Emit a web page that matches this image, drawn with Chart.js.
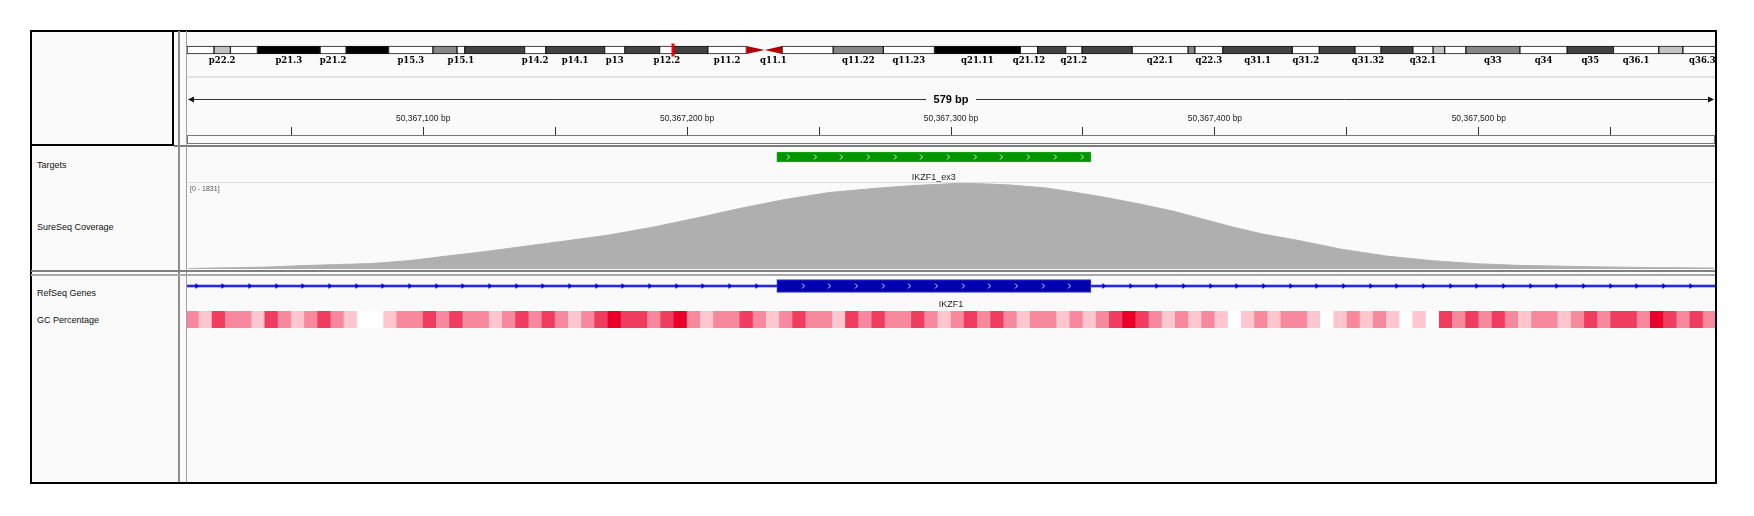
<!DOCTYPE html>
<html>
<head>
<meta charset="utf-8">
<title>IKZF1 exon 3 – coverage view</title>
<script src="https://cdn.jsdelivr.net/npm/chart.js@4.4.1/dist/chart.umd.min.js"></script>
<style>
html,body{margin:0;padding:0;background:#fff;}
body{width:1754px;height:516px;position:relative;overflow:hidden;font-family:"Liberation Sans",Arial,sans-serif;}
#frame{position:absolute;left:30px;top:30px;width:1687px;height:454px;border:2px solid #000;box-sizing:border-box;background:#fafafa;}
.ln{position:absolute;}
.name{position:absolute;left:37px;font-size:9px;line-height:10px;color:#111;white-space:nowrap;}
.txt{position:absolute;white-space:nowrap;}
canvas{position:absolute;display:block;}
#bandLabels{position:absolute;left:187px;top:55px;width:1528px;height:12px;overflow:hidden;}
.band{position:absolute;top:0;font-family:"DejaVu Serif",serif;font-weight:bold;font-size:8.5px;line-height:10px;color:#000;white-space:nowrap;transform:translateX(-50%);}
</style>
</head>
<body>
<div id="frame"></div>
<!-- panel separators -->
<div class="ln" style="left:172px;top:31px;width:2px;height:115px;background:#000"></div>
<div class="ln" style="left:31px;top:144px;width:143px;height:2px;background:#000"></div>
<div class="ln" style="left:174px;top:145px;width:1541px;height:2px;background:#7c7c7c"></div>
<div class="ln" style="left:178px;top:31px;width:2px;height:451px;background:#8e8e8e"></div>
<div class="ln" style="left:186px;top:31px;width:1px;height:451px;background:#a0a0a0"></div>
<div class="ln" style="left:187px;top:76px;width:1528px;height:2px;background:#e3e3e3"></div>
<div class="ln" style="left:187px;top:182px;width:1528px;height:1px;background:#dcdcdc"></div>
<div class="ln" style="left:31px;top:270px;width:1684px;height:2px;background:#808080"></div>
<div class="ln" style="left:31px;top:274px;width:1684px;height:2px;background:#a9a9a9"></div>

<canvas id="ideo" width="1528" height="20" style="left:187px;top:40px;width:1528px;height:20px"></canvas>
<div id="bandLabels"></div>
<canvas id="ruler" width="1528" height="67" style="left:187px;top:78px;width:1528px;height:67px"></canvas>
<div class="txt" id="spanLabel" style="top:93px;font-weight:bold;font-size:11px;line-height:12px;color:#000;transform:translateX(-50%)"></div>

<div class="name" style="top:160px">Targets</div>
<div class="name" style="top:222px">SureSeq Coverage</div>
<div class="name" style="top:288px">RefSeq Genes</div>
<div class="name" style="top:315px">GC Percentage</div>

<canvas id="targets" width="1528" height="20" style="left:187px;top:147px;width:1528px;height:20px"></canvas>
<div class="txt" id="targetLabel" style="top:172px;font-size:9px;line-height:10px;color:#222;transform:translateX(-50%)"></div>
<canvas id="coverage" width="1528" height="86" style="left:187px;top:183px;width:1528px;height:86px"></canvas>
<div class="txt" id="covRange" style="left:190px;top:185px;font-size:7px;line-height:8px;color:#555"></div>
<canvas id="genes" width="1528" height="20" style="left:187px;top:276px;width:1528px;height:20px"></canvas>
<div class="txt" id="geneLabel" style="top:299px;font-size:9px;line-height:10px;color:#222;transform:translateX(-50%)"></div>
<canvas id="gc" width="1528" height="17" style="left:187px;top:311px;width:1528px;height:17px"></canvas>

<script>
// ---------------- data ----------------
const VIEW_START = 50367010.5;
const VIEW_END = 50367589.5;
const RULER_STEP = 50;
const RULER_LABEL_STEP = 100;

// chr7 cytobands (Mb)
const bandNames  = ['p22.3','p22.2','p22.1','p21.3','p21.2','p21.1','p15.3','p15.2','p15.1','p14.3','p14.2','p14.1','p13','p12.3','p12.2','p12.1','p11.2','p11.1','q11.1','q11.21','q11.22','q11.23','q21.11','q21.12','q21.13','q21.2','q21.3','q22.1','q22.2','q22.3','q31.1','q31.2','q31.31','q31.32','q31.33','q32.1','q32.2','q32.3','q33','q34','q35','q36.1','q36.2','q36.3'];
const bandStarts = [0,2.8,4.5,7.3,13.8,16.5,20.9,25.5,28.0,28.8,35.0,37.2,43.3,45.4,49.0,50.5,54.0,58.0,59.9,61.7,67.0,72.2,77.5,86.4,88.2,91.1,92.8,98.0,103.8,104.5,107.4,114.6,117.4,121.1,123.8,127.1,129.2,130.4,132.6,138.2,143.1,147.9,152.6,155.1];
const bandEnds   = [2.8,4.5,7.3,13.8,16.5,20.9,25.5,28.0,28.8,35.0,37.2,43.3,45.4,49.0,50.5,54.0,58.0,59.9,61.7,67.0,72.2,77.5,86.4,88.2,91.1,92.8,98.0,103.8,104.5,107.4,114.6,117.4,121.1,123.8,127.1,129.2,130.4,132.6,138.2,143.1,147.9,152.6,155.1,159.14];
const bandStains = ['gneg','gpos25','gneg','gpos100','gneg','gpos100','gneg','gpos50','gneg','gpos75','gneg','gpos75','gneg','gpos75','gneg','gpos75','gneg','acen','acen','gneg','gpos50','gneg','gpos100','gneg','gpos75','gneg','gpos75','gneg','gpos50','gneg','gpos75','gneg','gpos75','gneg','gpos75','gneg','gpos25','gneg','gpos50','gneg','gpos75','gneg','gpos25','gneg'];
const shownBandLabels = ['p22.2','p21.3','p21.2','p15.3','p15.1','p14.2','p14.1','p13','p12.2','p11.2','q11.1','q11.22','q11.23','q21.11','q21.12','q21.2','q22.1','q22.3','q31.1','q31.2','q31.32','q32.1','q33','q34','q35','q36.1','q36.3'];
const IDEO_VISIBLE_MAX = 158.43;
const locusMb = [50.367];

const targetNames  = ['IKZF1_ex3'];
const targetStarts = [50367234];
const targetEnds   = [50367353];

const geneNames  = ['IKZF1'];
const geneStarts = [50344378];
const geneEnds   = [50472798];
const exonStarts = [50367234];
const exonEnds   = [50367353];

const COV_MAX = 1831;
const coveragePos = [50367011,50367015,50367041,50367053,50367068,50367080,50367085,50367095,50367109,50367124,50367136,50367153,50367170,50367187,50367204,50367220,50367237,50367254,50367272,50367285,50367303,50367313,50367322,50367336,50367346,50367357,50367370,50367384,50367397,50367407,50367418,50367431,50367448,50367465,50367482,50367499,50367516,50367527,50367546,50367565,50367589];
const coverageVal = [5,15,40,70,95,115,135,180,275,375,465,590,720,890,1090,1290,1480,1630,1720,1775,1824,1812,1790,1725,1640,1540,1400,1235,1040,890,745,615,420,275,178,112,75,65,45,30,20];

const GC_START = 50367010;
const GC_WINDOW = 5;
const gcValues = [
  60,40,80,60,60,40,80,60,40,60,
  80,60,40,20,20,40,60,60,80,60,
  80,60,60,40,60,80,60,80,60,40,
  60,80,100,80,80,60,80,100,60,40,
  60,60,80,60,40,60,80,60,60,40,
  80,60,80,60,60,80,60,40,60,80,
  60,80,60,40,60,60,40,60,40,60,
  80,100,80,60,40,60,40,60,40,20,
  40,60,40,60,60,40,20,40,60,40,
  60,40,20,40,20,80,60,80,60,80,
  60,40,60,60,40,60,80,60,80,80,
  60,100,80,60,80,60
];

// ---------------- styles ----------------
const STAIN_COLORS = {gneg:'#ffffff', gpos25:'#c4c4c4', gpos50:'#878787', gpos75:'#434343', gpos100:'#000000'};
const ACEN_COLOR = 'rgb(175,0,0)';
const GC_STOPS = [[20,[255,255,255]],[40,[255,198,208]],[60,[248,136,158]],[80,[240,60,94]],[100,[232,0,40]]];
function gcColor(v){
  if (v <= GC_STOPS[0][0]) return 'rgb(' + GC_STOPS[0][1].join(',') + ')';
  for (let i = 1; i < GC_STOPS.length; i++){
    if (v <= GC_STOPS[i][0]){
      const [a, ca] = GC_STOPS[i-1], [b, cb] = GC_STOPS[i];
      const t = (v - a) / (b - a);
      return 'rgb(' + ca.map((c, k) => Math.round(c + (cb[k] - c) * t)).join(',') + ')';
    }
  }
  return 'rgb(' + GC_STOPS[GC_STOPS.length-1][1].join(',') + ')';
}
const FONT = '"Liberation Sans", Arial, sans-serif';

const common = {
  responsive: false, animation: false, maintainAspectRatio: false, devicePixelRatio: 1,
  events: [], layout: {padding: 0},
  plugins: {legend: {display: false}, tooltip: {enabled: false}, title: {display: false}}
};
const bpX = () => ({type: 'linear', min: VIEW_START, max: VIEW_END, display: false});
const rowY = () => ({type: 'linear', min: -1, max: 1, display: false});

// ---------------- ideogram ----------------
const ideoIdx = bandNames.map((_, i) => i).filter(i => bandStains[i] !== 'acen');
const ideoChart = new Chart(document.getElementById('ideo'), {
  type: 'bar',
  data: {datasets: [{
    data: ideoIdx.map(i => ({x: [bandStarts[i], bandEnds[i]], y: 0})),
    backgroundColor: ideoIdx.map(i => STAIN_COLORS[bandStains[i]]),
    borderColor: '#1a1a1a', borderWidth: 1, borderSkipped: false,
    barThickness: 8, grouped: false
  }]},
  options: {...common, indexAxis: 'y',
    scales: {x: {type: 'linear', min: 0, max: IDEO_VISIBLE_MAX, display: false}, y: rowY()}},
  plugins: [{
    id: 'ideoExtras',
    afterDatasetsDraw(chart){
      const {ctx, scales: {x, y}} = chart;
      const yc = y.getPixelForValue(0), h = 8;
      ctx.save();
      bandNames.forEach((n, i) => {
        if (bandStains[i] !== 'acen') return;
        const x0 = x.getPixelForValue(bandStarts[i]), x1 = x.getPixelForValue(bandEnds[i]);
        ctx.fillStyle = ACEN_COLOR;
        ctx.beginPath();
        if (n[0] === 'p'){ ctx.moveTo(x0, yc - h/2); ctx.lineTo(x1, yc); ctx.lineTo(x0, yc + h/2); }
        else { ctx.moveTo(x0, yc); ctx.lineTo(x1, yc - h/2); ctx.lineTo(x1, yc + h/2); }
        ctx.closePath(); ctx.fill();
      });
      locusMb.forEach(m => {
        const lx = x.getPixelForValue(m);
        ctx.fillStyle = '#ff0000';
        ctx.fillRect(Math.round(lx) - 1.5, yc - 6.5, 3, 13);
      });
      ctx.restore();
    }
  }]
});
const bandBox = document.getElementById('bandLabels');
shownBandLabels.forEach(name => {
  const i = bandNames.indexOf(name);
  const px = ideoChart.scales.x.getPixelForValue((bandStarts[i] + bandEnds[i]) / 2);
  const d = document.createElement('div');
  d.className = 'band'; d.textContent = name; d.style.left = px + 'px';
  bandBox.appendChild(d);
});

// ---------------- ruler ----------------
const rulerChart = new Chart(document.getElementById('ruler'), {
  type: 'scatter',
  data: {datasets: []},
  options: {...common,
    layout: {padding: {top: 0, bottom: 1, left: 0, right: 0}},
    scales: {
      x: {type: 'linear', position: 'top', min: VIEW_START, max: VIEW_END,
        afterBuildTicks: s => {
          const t = [];
          for (let v = Math.ceil(s.min / RULER_STEP) * RULER_STEP; v <= s.max; v += RULER_STEP) t.push({value: v});
          s.ticks = t;
        },
        afterFit: s => { s.height = 57; },
        ticks: {autoSkip: false, maxRotation: 0, minRotation: 0, padding: 3, color: '#222',
          font: {family: FONT, size: 8.5},
          callback: v => (v % RULER_LABEL_STEP === 0 ? Number(v).toLocaleString('en-US') + ' bp' : '')},
        grid: {display: true, drawOnChartArea: false, drawTicks: true, tickLength: 8, color: '#333', lineWidth: 1},
        border: {display: true, color: '#555', width: 1}
      },
      y: {type: 'linear', min: 0, max: 1, display: false}
    }
  },
  plugins: [{
    id: 'rulerExtras',
    afterDraw(chart){
      const {ctx, chartArea: a, scales: {x}} = chart;
      ctx.save();
      ctx.strokeStyle = '#777'; ctx.lineWidth = 1;
      ctx.strokeRect(a.left + 0.5, a.top + 0.5, a.right - a.left - 1, a.bottom - a.top - 1);
      const y = 21.5, x0 = x.getPixelForValue(VIEW_START), x1 = x.getPixelForValue(VIEW_END);
      const xc = (x0 + x1) / 2, gap = 25;
      ctx.strokeStyle = '#333';
      ctx.beginPath();
      ctx.moveTo(x0 + 2, y); ctx.lineTo(xc - gap, y);
      ctx.moveTo(xc + gap, y); ctx.lineTo(x1 - 2, y);
      ctx.stroke();
      ctx.fillStyle = '#111';
      ctx.beginPath(); ctx.moveTo(x0 + 1, y); ctx.lineTo(x0 + 7, y - 3); ctx.lineTo(x0 + 7, y + 3); ctx.closePath(); ctx.fill();
      ctx.beginPath(); ctx.moveTo(x1 - 1, y); ctx.lineTo(x1 - 7, y - 3); ctx.lineTo(x1 - 7, y + 3); ctx.closePath(); ctx.fill();
      ctx.restore();
    }
  }]
});
const span = document.getElementById('spanLabel');
span.textContent = Math.round(VIEW_END - VIEW_START) + ' bp';
span.style.left = (187 + rulerChart.scales.x.getPixelForValue((VIEW_START + VIEW_END) / 2)) + 'px';

// chevrons helper
function chevrons(ctx, xStart, xEnd, yc, firstOffset, step, color){
  ctx.save();
  ctx.strokeStyle = color; ctx.lineWidth = 1;
  for (let px = xStart + firstOffset; px < xEnd - 4; px += step){
    ctx.beginPath();
    ctx.moveTo(Math.round(px) - 1, yc - 2.5); ctx.lineTo(Math.round(px) + 1.5, yc); ctx.lineTo(Math.round(px) - 1, yc + 2.5);
    ctx.stroke();
  }
  ctx.restore();
}

// ---------------- targets ----------------
const targetChart = new Chart(document.getElementById('targets'), {
  type: 'bar',
  data: {datasets: [{
    data: targetStarts.map((s, i) => ({x: [s, targetEnds[i]], y: 0})),
    backgroundColor: 'rgb(0,150,0)', borderColor: 'rgb(30,165,30)', borderWidth: 1, borderSkipped: false,
    barThickness: 10, grouped: false
  }]},
  options: {...common, indexAxis: 'y', scales: {x: bpX(), y: rowY()}},
  plugins: [{
    id: 'targetChevrons',
    afterDatasetsDraw(chart){
      const {ctx, scales: {x, y}} = chart;
      targetStarts.forEach((s, i) => {
        chevrons(ctx, x.getPixelForValue(s), x.getPixelForValue(targetEnds[i]), y.getPixelForValue(0), 11, 26.7, 'rgba(235,255,235,0.9)');
      });
    }
  }]
});
const tl = document.getElementById('targetLabel');
tl.textContent = targetNames[0];
tl.style.left = (187 + targetChart.scales.x.getPixelForValue((targetStarts[0] + targetEnds[0]) / 2)) + 'px';

// ---------------- coverage ----------------
new Chart(document.getElementById('coverage'), {
  type: 'line',
  data: {datasets: [{
    data: coveragePos.map((p, i) => ({x: p, y: coverageVal[i]})),
    fill: 'origin', backgroundColor: '#afafaf', borderColor: '#afafaf', borderWidth: 1,
    pointRadius: 0, tension: 0
  }]},
  options: {...common, scales: {x: bpX(), y: {type: 'linear', min: 0, max: COV_MAX, display: false}}}
});
document.getElementById('covRange').textContent = '[0 - ' + COV_MAX + ']';

// ---------------- genes ----------------
const geneChart = new Chart(document.getElementById('genes'), {
  type: 'bar',
  data: {datasets: [
    {data: exonStarts.map((s, i) => ({x: [s, exonEnds[i]], y: 0})),
     backgroundColor: 'rgb(0,0,176)', borderColor: 'rgb(50,50,205)', borderWidth: 1, borderSkipped: false,
     barThickness: 13, grouped: false, order: 0},
    {data: geneStarts.map((s, i) => ({x: [s, geneEnds[i]], y: 0})),
     backgroundColor: 'rgb(40,40,222)', borderWidth: 0, barThickness: 1.5, grouped: false, order: 1},
    {data: geneStarts.map((s, i) => ({x: [s, geneEnds[i]], y: 0})),
     backgroundColor: 'rgb(165,165,240)', borderWidth: 0, barThickness: 3, grouped: false, order: 2}
  ]},
  options: {...common, indexAxis: 'y', scales: {x: bpX(), y: rowY()}},
  plugins: [{
    id: 'geneArrows',
    afterDatasetsDraw(chart){
      const {ctx, scales: {x, y}, chartArea: a} = chart;
      const yc = y.getPixelForValue(0);
      ctx.save();
      ctx.fillStyle = 'rgb(0,0,225)';
      const tri = px => { ctx.beginPath(); ctx.moveTo(px - 1.5, yc - 3); ctx.lineTo(px + 2, yc); ctx.lineTo(px - 1.5, yc + 3); ctx.closePath(); ctx.fill(); };
      exonStarts.forEach((s, i) => {
        const ex0 = x.getPixelForValue(s), ex1 = x.getPixelForValue(exonEnds[i]);
        for (let px = ex0 - 20; px > a.left + 2; px -= 26.67) tri(Math.round(px));
        for (let px = ex1 + 13; px < a.right - 2; px += 26.67) tri(Math.round(px));
      });
      ctx.restore();
      exonStarts.forEach((s, i) => {
        chevrons(ctx, x.getPixelForValue(s), x.getPixelForValue(exonEnds[i]), yc, 25.7, 26.67, 'rgba(235,235,255,0.9)');
      });
    }
  }]
});
const gl = document.getElementById('geneLabel');
gl.textContent = geneNames[0];
{
  const vs = Math.max(geneStarts[0], VIEW_START), ve = Math.min(geneEnds[0], VIEW_END);
  gl.style.left = (187 + geneChart.scales.x.getPixelForValue((vs + ve) / 2)) + 'px';
}

// ---------------- GC percentage ----------------
new Chart(document.getElementById('gc'), {
  type: 'bar',
  data: {datasets: [{
    data: gcValues.map((v, i) => ({x: [GC_START + i * GC_WINDOW, GC_START + (i + 1) * GC_WINDOW], y: 0})),
    backgroundColor: gcValues.map(gcColor), borderWidth: 0, barThickness: 17, grouped: false
  }]},
  options: {...common, indexAxis: 'y', scales: {x: bpX(), y: rowY()}}
});
</script>
</body>
</html>
